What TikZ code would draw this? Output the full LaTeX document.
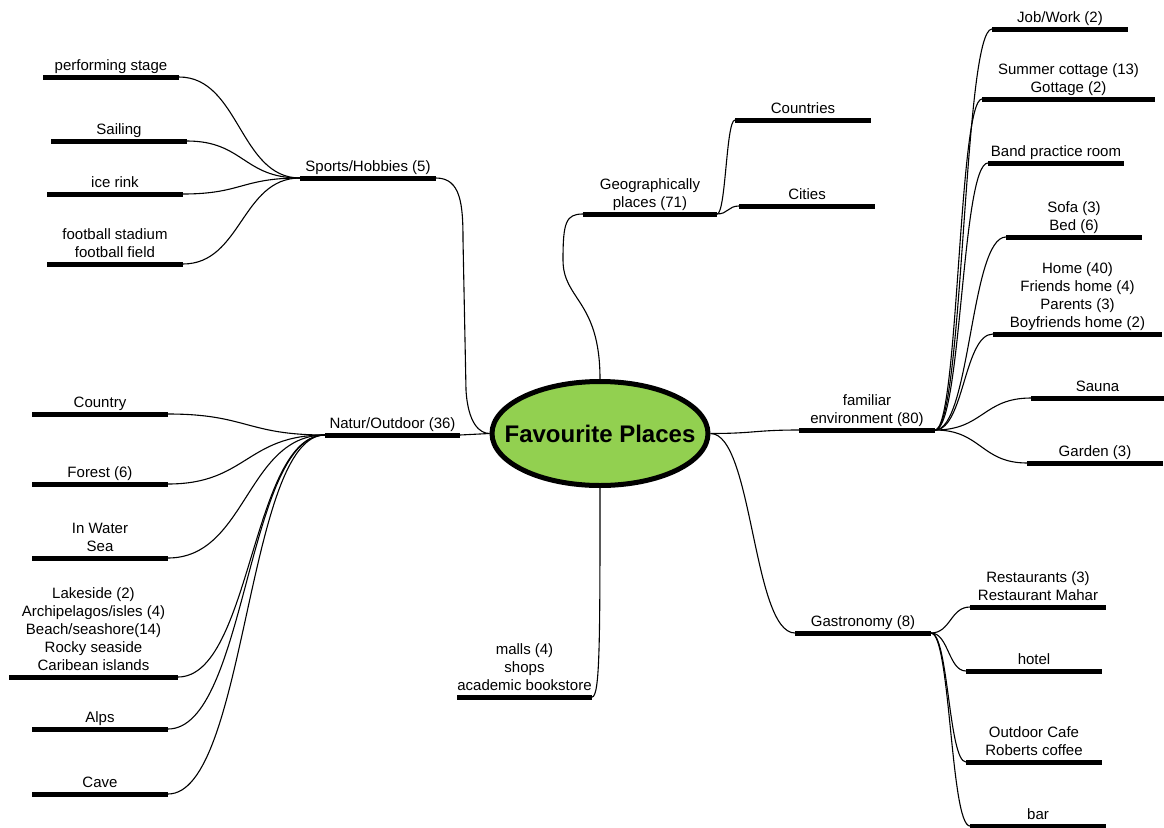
\documentclass[tikz,border=0pt]{standalone}
\usepackage{fontspec}
\setmainfont{Liberation Sans}
\usetikzlibrary{shapes.geometric,calc}
\definecolor{rootgreen}{RGB}{146,208,80}

% one leaf: bar from (#2,#4) to (#3,#4), caption above it
\newcommand\mmleaf[5]{%
  \coordinate (#1L) at (#2,#4);
  \coordinate (#1R) at (#3,#4);
  \draw[bar] (#1L) -- (#1R);
  \node[lbl] (#1) at ({(#2+#3)/2},{#4-6.5}) {#5};
}

\begin{document}
\begin{tikzpicture}[x=1pt,y=-1pt,
  bar/.style={line width=5pt},
  conn/.style={line width=1.1pt},
  lbl/.style={anchor=south,inner sep=0pt,text depth=0pt,align=center,
              font=\fontsize{15}{18}\selectfont},
  root/.style={ellipse,draw,line width=5pt,fill=rootgreen,inner sep=0pt,
               minimum width=216pt,minimum height=104pt,
               font=\fontsize{24}{28}\selectfont\bfseries},
  hbranch/.style={to path={let \p1=(\tikztostart), \p2=(\tikztotarget) in
      .. controls ({(\x1+\x2)/2},\y1) and ({(\x1+\x2)/2},\y2) .. (\tikztotarget)}}]
\useasboundingbox (0,0) rectangle (1164,827);

% root
\node[root] (fp) at (600,433.5) {\makebox[0pt]{Favourite Places}};

% main branches
\mmleaf{spt}{300}{436}{178}{Sports/Hobbies (5)}
\mmleaf{nat}{325}{460}{435}{Natur/Outdoor (36)}
\mmleaf{geo}{583}{717}{214}{Geographically\\places (71)}
\mmleaf{mal}{457}{592}{697}{malls (4)\\shops\\academic bookstore}
\mmleaf{fam}{799}{935}{430}{familiar\\environment (80)}
\mmleaf{gas}{795}{931}{633}{Gastronomy (8)}

\coordinate (geobend) at (563,260);
\coordinate (sptbendA) at (463,240);
\coordinate (sptbendB) at (466,390);
\draw[conn] (sptR) .. controls (461,178) and (463,205) .. (sptbendA)
                   -- (sptbendB)
                   .. controls (468,424) and (480,433.5) .. (fp.west);
\draw[conn] (natR) -- (fp.west);
\draw[conn] (fp.north) .. controls (600,300) and (563,300) .. (geobend)
                       .. controls (563,222) and (566,214) .. (geoL);
\draw[conn] (fp.south) .. controls (600,640) and (600,697) .. (malR);
\draw[conn] (fp.east) to[hbranch] (famL);
\draw[conn] (fp.east) to[hbranch] (gasL);

% sports / hobbies
\mmleaf{perf}{43}{179}{77}{performing stage}
\mmleaf{sail}{51}{187}{141}{Sailing}
\mmleaf{ice}{47}{183}{194}{ice rink}
\mmleaf{foot}{47}{183}{264}{football stadium\\football field}
\foreach \k in {perf,sail,ice,foot} \draw[conn] (\k R) to[hbranch] (sptL);

% nature / outdoor
\mmleaf{cty}{32}{168}{414}{Country}
\mmleaf{for}{32}{168}{484}{Forest (6)}
\mmleaf{wat}{32}{168}{558}{In Water\\Sea}
\mmleaf{lake}{9}{178}{677}{Lakeside (2)\\Archipelagos/isles (4)\\Beach/seashore(14)\\Rocky seaside\\Caribean islands}
\mmleaf{alps}{32}{168}{729}{Alps}
\mmleaf{cave}{32}{168}{794}{Cave}
\foreach \k in {cty,for,wat,lake,alps,cave} \draw[conn] (\k R) to[hbranch] (natL);

% geography
\mmleaf{cou}{735}{871}{120}{Countries}
\mmleaf{cit}{739}{875}{206}{Cities}
\foreach \k in {cou,cit} \draw[conn] (geoR) to[hbranch] (\k L);

% familiar environment
\mmleaf{job}{992}{1128}{29}{Job/Work (2)}
\mmleaf{sum}{982}{1155}{99}{Summer cottage (13)\\Gottage (2)}
\mmleaf{band}{988}{1124}{163}{Band practice room}
\mmleaf{sofa}{1006}{1142}{237}{Sofa (3)\\Bed (6)}
\mmleaf{home}{993}{1162}{334}{Home (40)\\Friends home (4)\\Parents (3)\\Boyfriends home (2)}
\mmleaf{sauna}{1031}{1164}{398}{Sauna}
\mmleaf{gard}{1027}{1163}{463}{Garden (3)}
\foreach \k in {job,sum,band,sofa,home,sauna,gard} \draw[conn] (famR) to[hbranch] (\k L);

% gastronomy
\mmleaf{rest}{970}{1106}{607}{Restaurants (3)\\Restaurant Mahar}
\mmleaf{hot}{966}{1102}{671}{hotel}
\mmleaf{cafe}{966}{1102}{762}{Outdoor Cafe\\Roberts coffee}
\mmleaf{barr}{970}{1106}{826}{bar}
\foreach \k in {rest,hot,cafe,barr} \draw[conn] (gasR) to[hbranch] (\k L);
\end{tikzpicture}
\end{document}
